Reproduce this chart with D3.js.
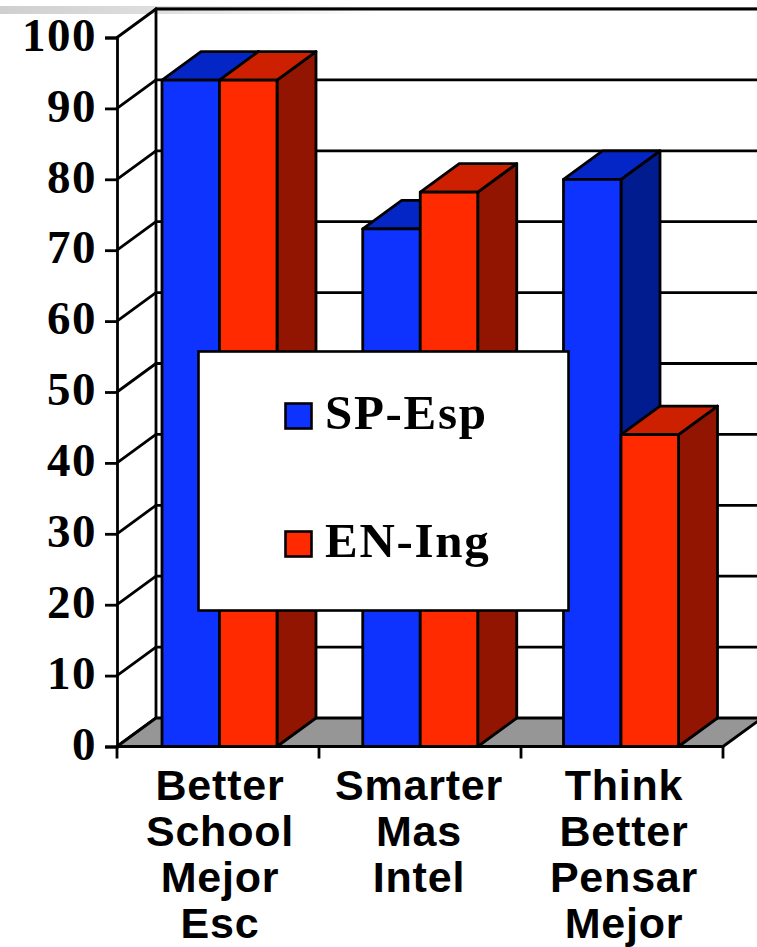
<!DOCTYPE html>
<html>
<head>
<meta charset="utf-8">
<script src="https://cdn.jsdelivr.net/npm/d3@7/dist/d3.min.js"></script>
<style>
html,body{margin:0;padding:0;background:#fff;overflow:hidden}
svg{display:block}
.num{font-family:"Liberation Serif",serif;font-weight:700;fill:#000}
.cat{font-family:"Liberation Sans",Arial,sans-serif;font-weight:700;fill:#000}
</style>
</head>
<body>
<script>
const categoryLines = [
  ["Better","School","Mejor","Esc"],
  ["Smarter","Mas","Intel"],
  ["Think","Better","Pensar","Mejor"]
];
const categories = ["Better School","Smarter","Think Better"];
const seriesNames = ["SP-Esp","EN-Ing"];
const spValues = [94,73,80];
const enValues = [94,78.2,44];
const yTicks = [0,10,20,30,40,50,60,70,80,90,100];
const frontColors = ["#0f33ff","#ff2a00"];
const topColors = ["#0526c6","#cc2000"];
const sideColors = ["#011c8e","#911500"];

const W=757,H=947,dx=39,dy=-28.5,SW=2.8;
const svg=d3.select("body").append("svg").attr("width",W).attr("height",H);

const defs=svg.append("defs");
const grad=defs.append("linearGradient").attr("id","strip");
grad.append("stop").attr("offset","0").attr("stop-color","#cfcfcf");
grad.append("stop").attr("offset","1").attr("stop-color","#dedede");
const grad2=defs.append("linearGradient").attr("id","stripFade");
grad2.append("stop").attr("offset","0").attr("stop-color","#dedede");
grad2.append("stop").attr("offset","1").attr("stop-color","#ffffff");
svg.append("rect").attr("x",0).attr("y",6).attr("width",156).attr("height",8).attr("fill","url(#strip)");
svg.append("rect").attr("x",156).attr("y",6).attr("width",220).attr("height",8).attr("fill","url(#stripFade)");
svg.append("rect").attr("x",156).attr("y",7).attr("width",601).attr("height",1).attr("fill","#b4b4b4");

const y=d3.scaleLinear().domain([0,100]).range([746.5,37.5]);
const xTick=d3.scaleBand().domain(categories).range([117,723]);
const xGroup=d3.scalePoint().domain(categories).range([219.5,621]);
const xSeries=d3.scaleBand().domain(seriesNames).range([-57.5,57.5]);
const labelShift=[2,-1,2];

const line=(a,b,c,d)=>svg.append("line").attr("x1",a).attr("y1",b).attr("x2",c).attr("y2",d)
  .attr("stroke","#000").attr("stroke-width",SW).attr("stroke-linecap","round");

// back wall gridlines and side wall diagonals
yTicks.forEach(v=>{
  if(v>0) line(156,y(v)+dy,W+2,y(v)+dy);
  line(117,y(v),156,y(v)+dy);
});
line(156,y(100)+dy,156,y(0)+dy);

// floor
svg.append("polygon")
  .attr("points",[[117,y(0)],[723,y(0)],[723+dx,y(0)+dy],[156,y(0)+dy]].join(" "))
  .attr("fill","#969696").attr("stroke","#000").attr("stroke-width",SW).attr("stroke-linejoin","round");

// y axis
const yAxis=d3.axisLeft(y).tickValues(yTicks).tickSize(12).tickPadding(8).tickFormat(d3.format("d"));
const gy=svg.append("g").attr("transform","translate(117,0)").call(yAxis);
gy.select(".domain").attr("stroke-width",SW);
gy.selectAll(".tick line").attr("stroke-width",SW);
gy.selectAll("text").attr("class","num").style("font-size","47px").style("letter-spacing","1.5px").attr("dy","0.27em");

// x axis
const xEdges=[...categories.map(c=>xTick(c)),723];
svg.selectAll(".xt").data(xEdges).join("line").attr("class","xt")
  .attr("x1",d=>d).attr("x2",d=>d).attr("y1",y(0)).attr("y2",y(0)+12)
  .attr("stroke","#000").attr("stroke-width",SW);
line(117,y(0),723,y(0));

// bars
const bars=svg.append("g").attr("stroke","#000").attr("stroke-width",SW).attr("stroke-linejoin","round");
categories.forEach((c,ci)=>{
  [spValues,enValues].forEach((vals,si)=>{
    const s=seriesNames[si];
    const x0=xGroup(c)+xSeries(s), x1=x0+xSeries.bandwidth(), t=y(vals[ci]), b=y(0);
    bars.append("polygon").attr("fill",sideColors[si])
      .attr("points",[[x1,t],[x1+dx,t+dy],[x1+dx,b+dy],[x1,b]].join(" "));
    bars.append("polygon").attr("fill",topColors[si])
      .attr("points",[[x0,t],[x0+dx,t+dy],[x1+dx,t+dy],[x1,t]].join(" "));
    bars.append("rect").attr("fill",frontColors[si])
      .attr("x",x0).attr("y",t).attr("width",x1-x0).attr("height",b-t);
  });
});

// category labels
categories.forEach((c,i)=>{
  const t=svg.append("text").attr("class","cat").attr("text-anchor","middle")
    .style("font-size","43px").style("letter-spacing","0.8px");
  categoryLines[i].forEach((l,j)=>{
    t.append("tspan").attr("x",xTick(c)+xTick.bandwidth()/2+labelShift[i]).attr("y",799.5+j*46.2).text(l);
  });
});

// legend
svg.append("rect").attr("x",198.5).attr("y",351.5).attr("width",370).attr("height",259)
  .attr("fill","#fff").attr("stroke","#000").attr("stroke-width",2.6);
const legendY=d3.scalePoint().domain(seriesNames).range([416,544]);
seriesNames.forEach((s,i)=>{
  svg.append("rect").attr("x",285.5).attr("y",legendY(s)-12.5).attr("width",26).attr("height",25)
    .attr("fill",frontColors[i]).attr("stroke","#000").attr("stroke-width",2.6);
  svg.append("text").attr("class","num").attr("x",325).attr("y",legendY(s)+13)
    .style("font-size","49px").style("letter-spacing","1.7px").text(s);
});
</script>
</body>
</html>
